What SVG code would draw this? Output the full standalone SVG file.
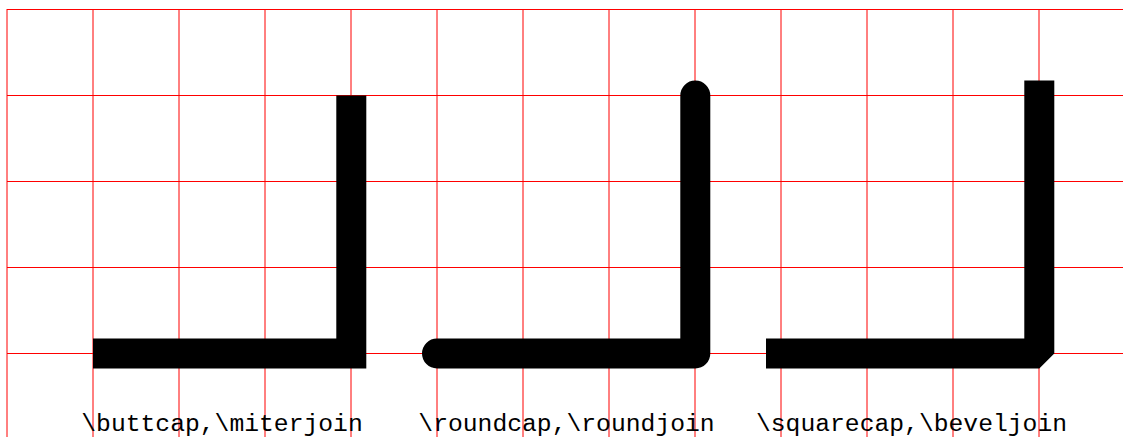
<svg xmlns="http://www.w3.org/2000/svg" width="1123" height="437" viewBox="0 0 1123 437">
<style>
.grid line{stroke:#ff0000;stroke-width:1}
.stroke{fill:none;stroke:#000;stroke-width:30}
.lbl{font-family:"Liberation Mono","DejaVu Sans Mono",monospace;font-size:24.7px;fill:#000;text-anchor:middle}
</style>
<rect width="1123" height="437" fill="#fff"/>
<g id="grid" class="grid">
<line x1="7" y1="9.5" x2="1123" y2="9.5"/>
<line x1="7" y1="95.5" x2="1123" y2="95.5"/>
<line x1="7" y1="181.5" x2="1123" y2="181.5"/>
<line x1="7" y1="267.5" x2="1123" y2="267.5"/>
<line x1="7" y1="353.5" x2="1123" y2="353.5"/>
<line x1="7" y1="9" x2="7" y2="437"/>
<line x1="93" y1="9" x2="93" y2="437"/>
<line x1="179" y1="9" x2="179" y2="437"/>
<line x1="265" y1="9" x2="265" y2="437"/>
<line x1="351" y1="9" x2="351" y2="437"/>
<line x1="437" y1="9" x2="437" y2="437"/>
<line x1="523" y1="9" x2="523" y2="437"/>
<line x1="609" y1="9" x2="609" y2="437"/>
<line x1="695" y1="9" x2="695" y2="437"/>
<line x1="781" y1="9" x2="781" y2="437"/>
<line x1="867" y1="9" x2="867" y2="437"/>
<line x1="953" y1="9" x2="953" y2="437"/>
<line x1="1039" y1="9" x2="1039" y2="437"/>
</g>
<g id="butt-miter">
<path class="stroke" d="M93 353.5 H351.3 V95.5" stroke-linecap="butt" stroke-linejoin="miter"/>
<text class="lbl" x="222" y="431">\buttcap,\miterjoin</text>
</g>
<g id="round-round">
<path class="stroke" d="M437 353.5 H695.3 V95.5" stroke-linecap="round" stroke-linejoin="round"/>
<text class="lbl" x="566.5" y="431">\roundcap,\roundjoin</text>
</g>
<g id="square-bevel">
<path class="stroke" d="M781 353.5 H1039.3 V95.5" stroke-linecap="square" stroke-linejoin="bevel"/>
<text class="lbl" x="911.5" y="431">\squarecap,\beveljoin</text>
</g>
</svg>
